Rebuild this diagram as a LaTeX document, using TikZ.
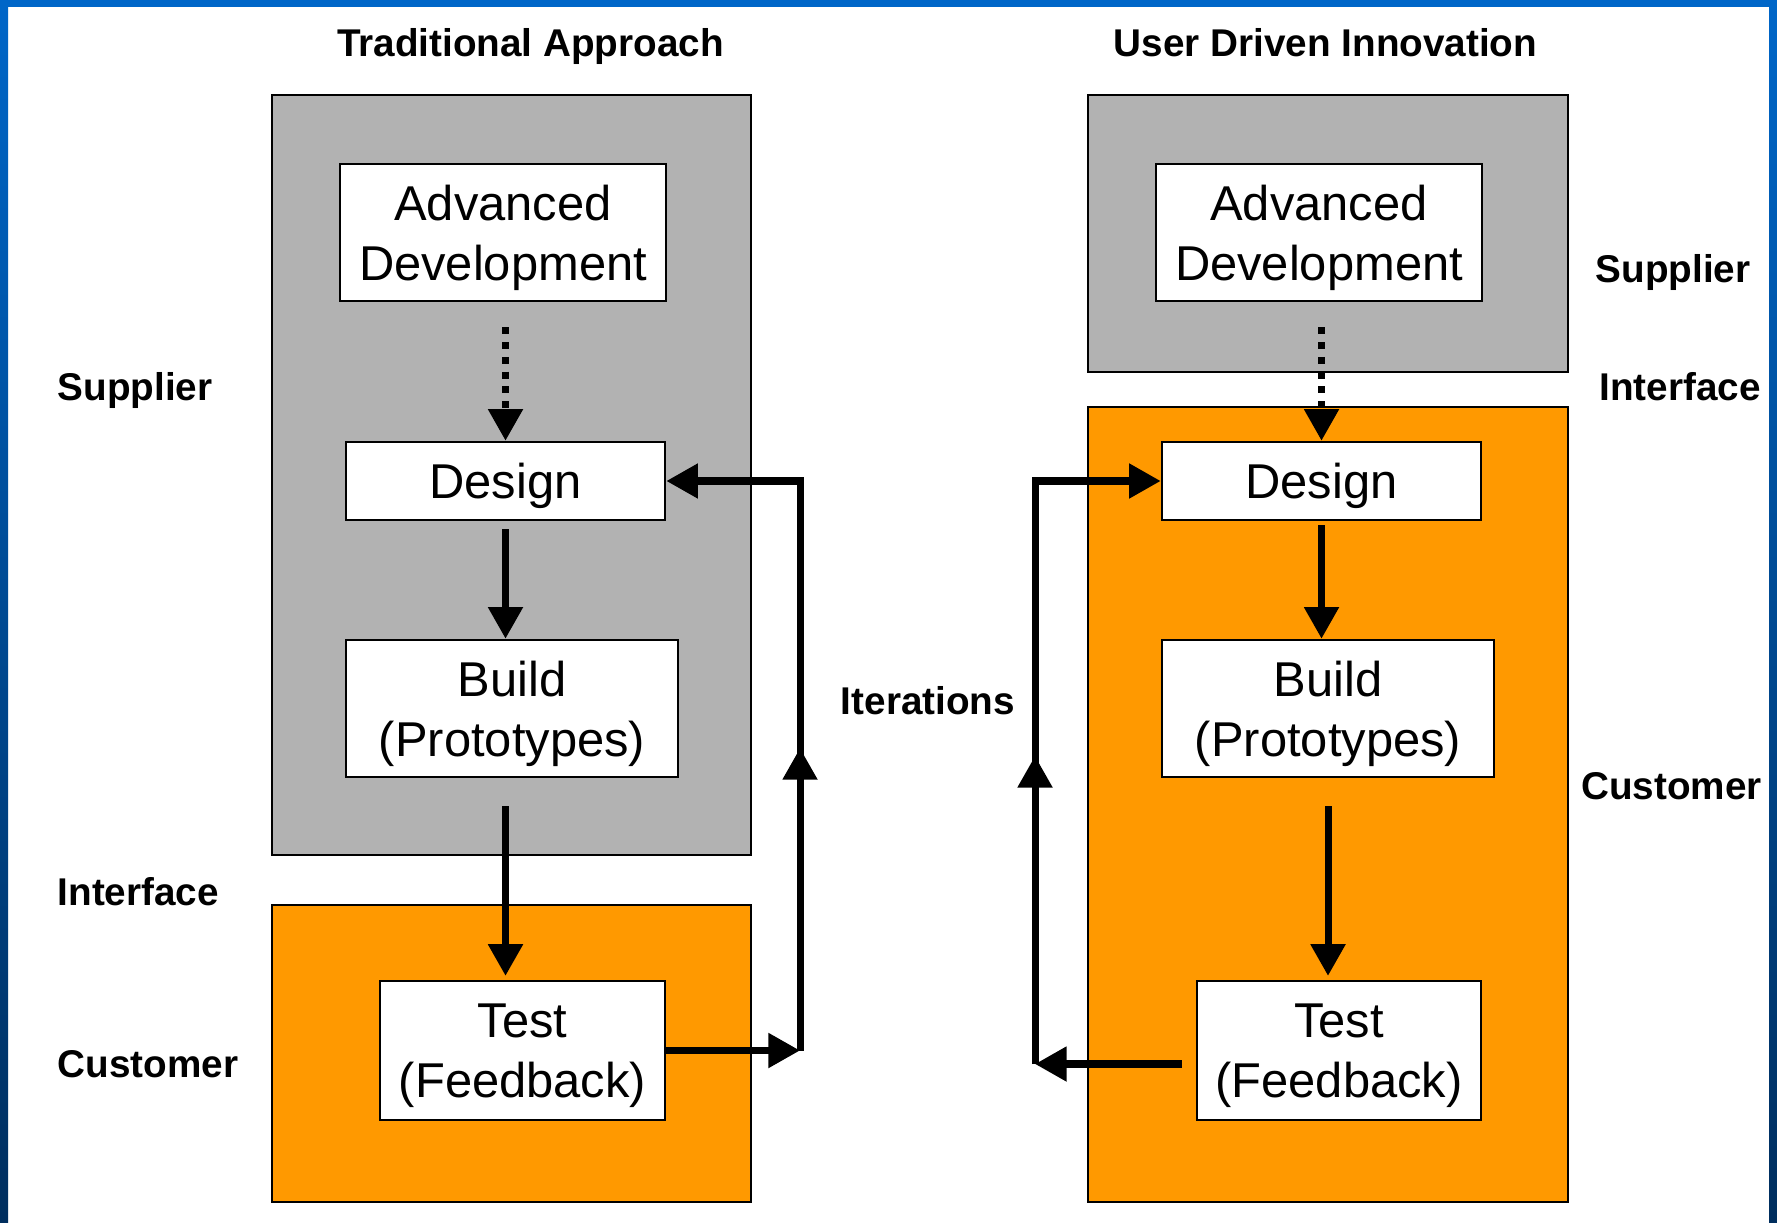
\documentclass[tikz,border=0pt]{standalone}
\usepackage{fontspec}
\setmainfont{Liberation Sans}
\usetikzlibrary{arrows.meta,decorations.markings}

\definecolor{slideblue}{RGB}{0,102,200}
\definecolor{slidenavy}{RGB}{0,46,94}
\definecolor{supplygray}{RGB}{178,178,178}
\definecolor{custorange}{RGB}{255,153,0}

\tikzset{
  zone/.style={draw=black,line width=.6pt},
  stepbox/.style={draw,fill=white,line width=.7pt,align=center,inner sep=0pt,
    text depth=0pt,font=\fontsize{13.9}{17}\selectfont},
  side/.style={inner sep=0pt,font=\bfseries\fontsize{11}{13}\selectfont},
  flow/.style={line width=2pt,-{Triangle[length=9pt,width=9.5pt]}},
  hint/.style={dash pattern=on 2pt off 2.2pt},
  midtip/.style={postaction={decorate,decoration={markings,
    mark=at position #1 with {\arrow{Triangle[length=9pt,width=9.5pt]}}}}}
}

\begin{document}
\begin{tikzpicture}[x=0.01cm,y=-0.01cm]
\useasboundingbox (0,0) rectangle (1777,1222);
% slide frame
\fill[white] (0,0) rectangle (1777,1222);
\shade[top color=slideblue,bottom color=slidenavy] (0,0) rectangle (8,1222);
\shade[top color=slideblue,bottom color=slidenavy] (1769,0) rectangle (1777,1222);
\fill[slideblue] (0,0) rectangle (1777,7);

% supplier / customer zones
\draw[zone,fill=supplygray] (272,95) rectangle (751,855);
\draw[zone,fill=custorange] (272,905) rectangle (751,1202);
\draw[zone,fill=supplygray] (1088,95) rectangle (1568,372);
\draw[zone,fill=custorange] (1088,407) rectangle (1568,1202);

% traditional approach
\node[stepbox,minimum width=3.26cm,minimum height=1.37cm] (ladv) at (503,232.5) {Advanced\\Development};
\node[stepbox,minimum width=3.19cm,minimum height=.78cm] (ldes) at (505.5,481) {Design};
\node[stepbox,minimum width=3.32cm,minimum height=1.37cm] (lbld) at (512,708.5) {Build\\(Prototypes)};
\node[stepbox,minimum width=2.85cm,minimum height=1.39cm] (ltst) at (522.5,1050.5) {Test\\(Feedback)};

% user driven innovation
\node[stepbox,minimum width=3.26cm,minimum height=1.37cm] (radv) at (1319,232.5) {Advanced\\Development};
\node[stepbox,minimum width=3.19cm,minimum height=.78cm] (rdes) at (1321.5,481) {Design};
\node[stepbox,minimum width=3.32cm,minimum height=1.37cm] (rbld) at (1328,708.5) {Build\\(Prototypes)};
\node[stepbox,minimum width=2.84cm,minimum height=1.39cm] (rtst) at (1339,1050.5) {Test\\(Feedback)};

% labels
\node[side,anchor=base] (lhead) at (530.5,57) {Traditional Approach};
\node[side,anchor=base] (rhead) at (1325.5,57) {User Driven Innovation};
\node[side,anchor=base west] (lsup) at (57,401) {Supplier};
\node[side,anchor=base west] (lint) at (57,905) {Interface};
\node[side,anchor=base west] (lcus) at (57,1077) {Customer};
\node[side,anchor=base] (iter) at (928,714) {Iterations};
\node[side,anchor=base] (rsup) at (1673,283) {Supplier};
\node[side,anchor=base] (rint) at (1680,401) {Interface};
\node[side,anchor=base] (rcus) at (1671.5,799) {Customer};

% left chain
\draw[flow,hint,shorten <=7.1pt] (ldes.north |- ladv.south) -- (ldes.north);
\draw[flow,shorten <=2.3pt] (ldes.south) -- (ldes.south |- lbld.north);
\draw[flow,shorten <=8pt,shorten >=1.1pt] (ldes.south |- lbld.south) -- (ldes.south |- ltst.north);
\coordinate (lturn) at (800,1050.5);
\draw[flow] (ltst.east) -- (lturn);
\draw[flow,midtip=86pt] (lturn) |- (ldes.east);

% right chain
\draw[flow,hint,shorten <=7.1pt] (rdes.north |- radv.south) -- (rdes.north);
\draw[flow,shorten <=1.1pt] (rdes.south) -- (rdes.south |- rbld.north);
\draw[flow,shorten <=8pt,shorten >=1.1pt] (rbld.south) -- (rbld.south |- rtst.north);
\coordinate (rturn) at (1035,1064);
\draw[flow,shorten <=4pt] (rtst.west |- rturn) -- (rturn);
\draw[flow,midtip=87.6pt] (rturn) |- (rdes.west);
\end{tikzpicture}
\end{document}
